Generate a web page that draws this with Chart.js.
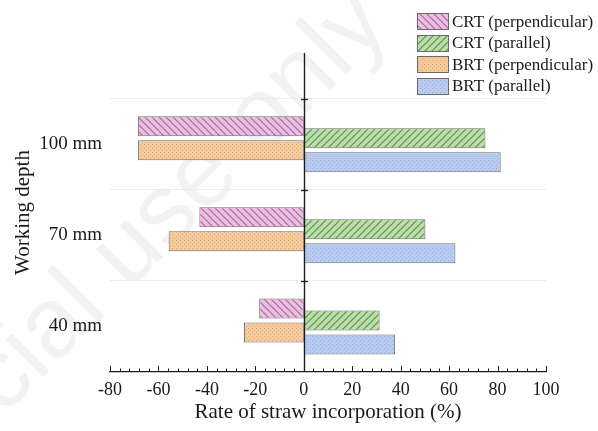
<!DOCTYPE html>
<html>
<head>
<meta charset="utf-8">
<script src="https://cdn.jsdelivr.net/npm/chart.js@4/dist/chart.umd.min.js"></script>
<style>
  html, body { margin: 0; padding: 0; background: #ffffff; }
  #wrap { width: 598px; height: 431px; }
</style>
</head>
<body>
<div id="wrap"><canvas id="chart" width="598" height="431"></canvas></div>
<script>
// Working depths, top to bottom
const depths = ['100 mm', '70 mm', '40 mm'];

// Series names, in legend order
const seriesNames = ['CRT (perpendicular)', 'CRT (parallel)', 'BRT (perpendicular)', 'BRT (parallel)'];

// Rate of straw incorporation (%), one value per depth; perpendicular runs plotted to the left
const crtPerpendicular = [-68.5, -43.1, -18.4];
const crtParallel      = [75.0, 50.2, 31.3];
const brtPerpendicular = [-68.5, -55.8, -24.7];
const brtParallel      = [81.3, 62.6, 37.7];

// Axis ticks
const xTickValues = [-80, -60, -40, -20, 0, 20, 40, 60, 80, 100];

const SERIF = '"Liberation Serif", "Times New Roman", serif';
const canvas = document.getElementById('chart');
const mainCtx = canvas.getContext('2d');

// Diagonal hatch fill
function stripePattern(fill, ink, forward) {
  const s = 7;
  const c = document.createElement('canvas');
  c.width = s; c.height = s;
  const g = c.getContext('2d');
  g.fillStyle = fill;
  g.fillRect(0, 0, s, s);
  g.strokeStyle = ink;
  g.lineWidth = 1.1;
  g.beginPath();
  if (forward) {
    g.moveTo(-1, s + 1); g.lineTo(s + 1, -1);
    g.moveTo(-1, 1); g.lineTo(1, -1);
    g.moveTo(s - 1, s + 1); g.lineTo(s + 1, s - 1);
  } else {
    g.moveTo(-1, -1); g.lineTo(s + 1, s + 1);
    g.moveTo(-1, s - 1); g.lineTo(1, s + 1);
    g.moveTo(s - 1, -1); g.lineTo(s + 1, 1);
  }
  g.stroke();
  return mainCtx.createPattern(c, 'repeat');
}

// Fine dotted fill
function dotPattern(fill, ink) {
  const s = 4;
  const c = document.createElement('canvas');
  c.width = s; c.height = s;
  const g = c.getContext('2d');
  g.fillStyle = fill;
  g.fillRect(0, 0, s, s);
  g.fillStyle = ink;
  g.fillRect(0, 0, 1, 1);
  g.fillRect(2, 2, 1, 1);
  return mainCtx.createPattern(c, 'repeat');
}

const fills = [
  stripePattern('#eebde4', '#9d6b95', false),
  stripePattern('#badfa7', '#5f8a56', true),
  dotPattern('#f7ca9b', '#e0a774'),
  dotPattern('#b9cbef', '#98afdf')
];
const seriesValues = [crtPerpendicular, crtParallel, brtPerpendicular, brtParallel];

const datasets = seriesNames.map((name, i) => ({
  label: name,
  data: seriesValues[i].map((v, k) => ({ x: v, y: k })),
  backgroundColor: fills[i],
  borderColor: '#6a6a6a',
  borderWidth: 1,
  borderSkipped: false,
  categoryPercentage: 1.053,
  barPercentage: 1.667
}));

// Faint diagonal watermark behind the plot
const watermark = {
  id: 'watermark',
  beforeDraw(chart) {
    const ctx = chart.ctx;
    ctx.save();
    ctx.translate(392, 28);
    ctx.rotate(-Math.PI / 4);
    ctx.font = '100px "Liberation Sans", Arial, sans-serif';
    ctx.fillStyle = 'rgba(0,0,0,0.05)';
    ctx.textAlign = 'right';
    ctx.textBaseline = 'alphabetic';
    ctx.fillText('For non-commercial use only', 0, 0);
    ctx.restore();
  }
};

// Zero axis line, tick marks and the legend
const axisDecor = {
  id: 'axisDecor',
  afterDatasetsDraw(chart) {
    const { ctx, chartArea } = chart;
    const xs = chart.scales.x, ys = chart.scales.y;
    const x0 = Math.round(xs.getPixelForValue(0)) + 0.5;
    ctx.save();
    ctx.strokeStyle = '#1e1e1e';
    ctx.lineWidth = 1.4;
    ctx.beginPath();
    ctx.moveTo(x0, chartArea.top);
    ctx.lineTo(x0, chartArea.bottom);
    ctx.stroke();
    // boundary ticks crossing the zero line
    ctx.lineWidth = 1.3;
    [-0.5, 0.5, 1.5].forEach(v => {
      const py = Math.round(ys.getPixelForValue(v)) + 0.5;
      ctx.beginPath();
      ctx.moveTo(x0 - 3.5, py);
      ctx.lineTo(x0 + 3.5, py);
      ctx.stroke();
    });
    // major and minor ticks along the bottom axis, pointing inward
    ctx.lineWidth = 1;
    for (let v = xs.min; v <= xs.max; v += 4) {
      const px = Math.round(xs.getPixelForValue(v)) + 0.5;
      const len = (v % 20 === 0) ? 6 : 3.5;
      ctx.beginPath();
      ctx.moveTo(px, chartArea.bottom);
      ctx.lineTo(px, chartArea.bottom - len);
      ctx.stroke();
    }
    ctx.restore();

    // legend
    ctx.save();
    ctx.font = '17px ' + SERIF;
    ctx.textBaseline = 'middle';
    ctx.textAlign = 'left';
    chart.data.datasets.forEach((ds, i) => {
      const cy = 21.5 + i * 21.5;
      const bx = 417, by = Math.round(cy - 8.5);
      ctx.fillStyle = ds.backgroundColor;
      ctx.fillRect(bx, by, 32, 17);
      ctx.strokeStyle = ds.borderColor;
      ctx.lineWidth = 1;
      ctx.strokeRect(bx + 0.5, by + 0.5, 31, 16);
      ctx.fillStyle = '#1a1a1a';
      ctx.fillText(ds.label, 452, cy + 1);
    });
    ctx.restore();
  }
};

new Chart(canvas, {
  type: 'bar',
  data: { datasets },
  plugins: [watermark, axisDecor],
  options: {
    indexAxis: 'y',
    responsive: false,
    animation: false,
    layout: { padding: { top: 53, right: 52, left: 0, bottom: 0 } },
    scales: {
      x: {
        type: 'linear',
        min: -80,
        max: 100,
        afterBuildTicks(scale) { scale.ticks = xTickValues.map(v => ({ value: v })); },
        afterFit(scale) { scale.height = 59; },
        ticks: {
          color: '#1a1a1a',
          font: { family: SERIF, size: 18 },
          padding: 7,
          autoSkip: false,
          maxRotation: 0
        },
        grid: { display: false, drawTicks: false },
        border: { display: true, color: '#1e1e1e', width: 1.2 },
        title: {
          display: true,
          text: 'Rate of straw incorporation (%)',
          color: '#1a1a1a',
          font: { family: SERIF, size: 21 },
          padding: { top: 0, bottom: 6 }
        }
      },
      y: {
        type: 'linear',
        reverse: true,
        offset: false,
        min: -1,
        max: 2.5,
        afterFit(scale) { scale.width = 110; },
        ticks: {
          stepSize: 0.5,
          autoSkip: false,
          color: '#1a1a1a',
          font: { family: SERIF, size: 19 },
          padding: 8,
          callback: v => (Number.isInteger(v) && v >= 0 && v < depths.length) ? depths[v] : ''
        },
        grid: {
          offset: false,
          drawTicks: false,
          color: c => (c.tick && !Number.isInteger(c.tick.value) && c.tick.value < 2.5) ? '#ececec' : 'rgba(0,0,0,0)',
          lineWidth: 1
        },
        border: { display: false },
        title: {
          display: true,
          text: 'Working depth',
          color: '#1a1a1a',
          font: { family: SERIF, size: 21 },
          padding: { top: 11, bottom: 0 }
        }
      }
    },
    plugins: {
      legend: { display: false },
      tooltip: { enabled: false }
    }
  }
});
</script>
</body>
</html>
